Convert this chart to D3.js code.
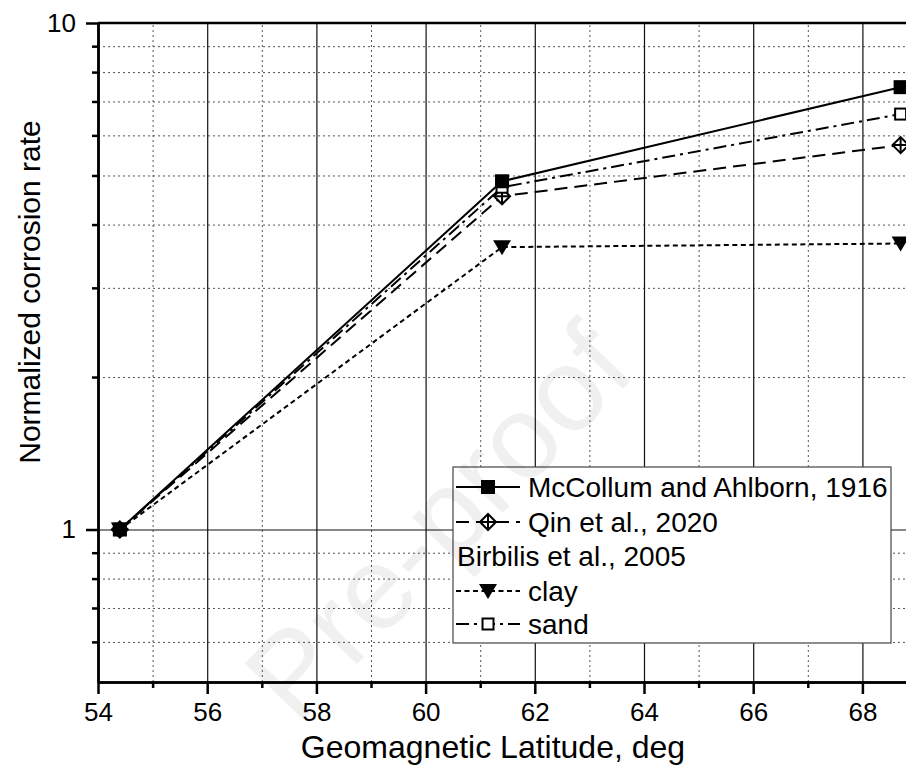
<!DOCTYPE html>
<html>
<head>
<meta charset="utf-8">
<script src="https://cdn.jsdelivr.net/npm/d3@7"></script>
<style>
  body { margin: 0; background: #fff; }
  svg { display: block; font-family: "Liberation Sans", Arial, sans-serif; }
</style>
</head>
<body>
<div id="chart"></div>
<script>
// data
var latitudes = [54.4, 61.4, 68.7];
var mccollum = [1, 4.87, 7.47];
var qin      = [1, 4.55, 5.74];
var clay     = [1, 3.61, 3.67];
var sand     = [1, 4.74, 6.61];

var xMajorTicks = [54, 56, 58, 60, 62, 64, 66, 68];
var xMinorTicks = [55, 57, 59, 61, 63, 65, 67];
var yMajorTicks = [1, 10];
var yMinorTicks = [0.6, 0.7, 0.8, 0.9, 2, 3, 4, 5, 6, 7, 8, 9];

var seriesNames = ["McCollum and Ahlborn, 1916", "Qin et al., 2020", "clay", "sand"];

var margin = {top: 23, left: 98};
var width = 819, height = 659;

var svg = d3.select("#chart").append("svg")
    .attr("width", 906)
    .attr("height", 767);

var g = svg.append("g")
    .attr("transform", "translate(" + margin.left + "," + margin.top + ")");

var x = d3.scaleLinear().domain([54, 69]).range([0, width]);
var y = d3.scaleLog().domain([0.5, 10]).range([height, 0]);

// grid
g.append("g")
    .attr("transform", "translate(0," + height + ")")
    .call(d3.axisBottom(x).tickValues(xMinorTicks).tickSize(-height).tickFormat(""))
    .call(function(s) {
        s.select(".domain").remove();
        s.selectAll("line").attr("stroke", "#555").attr("stroke-dasharray", "2,3");
    });
g.append("g")
    .call(d3.axisLeft(y).tickValues(yMinorTicks).tickSize(-width).tickFormat(""))
    .call(function(s) {
        s.select(".domain").remove();
        s.selectAll("line").attr("stroke", "#555").attr("stroke-dasharray", "2,3");
    });
g.append("g")
    .attr("transform", "translate(0," + height + ")")
    .call(d3.axisBottom(x).tickValues(xMajorTicks.slice(1)).tickSize(-height).tickFormat(""))
    .call(function(s) {
        s.select(".domain").remove();
        s.selectAll("line").attr("stroke", "#111").attr("stroke-width", 1.2);
    });
g.append("g")
    .call(d3.axisLeft(y).tickValues([1]).tickSize(-width).tickFormat(""))
    .call(function(s) {
        s.select(".domain").remove();
        s.selectAll("line").attr("stroke", "#111").attr("stroke-width", 1.2);
    });

// axes
function styleAxis(s) {
    s.select(".domain").attr("stroke", "#000").attr("stroke-width", 2.5);
    s.selectAll("line").attr("stroke", "#000").attr("stroke-width", 2.5);
    s.selectAll("text").attr("fill", "#000").style("font-size", "26px");
}

g.append("g")
    .attr("transform", "translate(0," + height + ")")
    .call(d3.axisBottom(x).tickValues(xMinorTicks).tickSize(6).tickSizeOuter(0).tickFormat(""))
    .call(styleAxis);
g.append("g")
    .attr("transform", "translate(0," + height + ")")
    .call(d3.axisBottom(x).tickValues(xMajorTicks).tickSize(12).tickSizeOuter(0).tickPadding(9).tickFormat(d3.format("d")))
    .call(styleAxis);

g.append("g")
    .call(d3.axisLeft(y).tickValues(yMinorTicks).tickSize(6).tickSizeOuter(0).tickFormat(""))
    .call(styleAxis);
g.append("g")
    .call(d3.axisLeft(y).tickValues(yMajorTicks).tickSize(12).tickSizeOuter(0).tickPadding(10).tickFormat(d3.format("d")))
    .call(styleAxis);

// top frame line
g.append("line")
    .attr("x1", 0).attr("x2", width)
    .attr("y1", y(10)).attr("y2", y(10))
    .attr("stroke", "#000").attr("stroke-width", 2.5);

// axis titles
svg.append("text")
    .attr("x", 493).attr("y", 758)
    .attr("text-anchor", "middle")
    .style("font-size", "32px")
    .text("Geomagnetic Latitude, deg");

svg.append("text")
    .attr("transform", "translate(40,292) rotate(-90)")
    .attr("text-anchor", "middle")
    .style("font-size", "30px")
    .text("Normalized corrosion rate");

// series
var styles = [
    {values: mccollum, dash: null, marker: "filledSquare"},
    {values: qin, dash: "13,7", marker: "crossDiamond"},
    {values: clay, dash: "5,3.5", marker: "triangle"},
    {values: sand, dash: "13,5,3,5", marker: "openSquare"}
];

var line = d3.line()
    .x(function(d) { return x(d.lat); })
    .y(function(d) { return y(d.v); });

function drawMarker(sel, type, cx, cy) {
    var m = sel.append("g").attr("transform", "translate(" + cx + "," + cy + ")");
    if (type === "filledSquare") {
        m.append("rect").attr("x", -7).attr("y", -7).attr("width", 14).attr("height", 14).attr("fill", "#000");
    } else if (type === "openSquare") {
        m.append("rect").attr("x", -5.5).attr("y", -5.5).attr("width", 11).attr("height", 11)
            .attr("fill", "#fff").attr("stroke", "#000").attr("stroke-width", 2);
    } else if (type === "triangle") {
        m.append("path").attr("d", "M-9,-7L9,-7L0,8Z").attr("fill", "#000");
    } else if (type === "crossDiamond") {
        m.append("path").attr("d", "M0,-8L8,0L0,8L-8,0Z")
            .attr("fill", "#fff").attr("stroke", "#000").attr("stroke-width", 2);
        m.append("path").attr("d", "M0,-8V8M-8,0H8")
            .attr("stroke", "#000").attr("stroke-width", 2);
    }
}

var plot = g.append("g");
styles.forEach(function(s) {
    var pts = latitudes.map(function(lat, i) { return {lat: lat, v: s.values[i]}; });
    plot.append("path")
        .datum(pts)
        .attr("fill", "none")
        .attr("stroke", "#000")
        .attr("stroke-width", 2)
        .attr("stroke-dasharray", s.dash)
        .attr("d", line);
});
// markers, drawn so the first-listed series ends on top
[2, 1, 3, 0].forEach(function(k) {
    var s = styles[k];
    latitudes.forEach(function(lat, i) {
        drawMarker(plot, s.marker, x(lat), y(s.values[i]));
    });
});

// legend
var legend = svg.append("g").attr("transform", "translate(453,467)");
legend.append("rect")
    .attr("width", 438).attr("height", 176)
    .attr("fill", "#fff").attr("stroke", "#444").attr("stroke-width", 1.2);

var rows = [
    {label: seriesNames[0], style: styles[0], cy: 20},
    {label: seriesNames[1], style: styles[1], cy: 55},
    {label: "Birbilis et al., 2005", style: null, cy: 89},
    {label: seriesNames[2], style: styles[2], cy: 124},
    {label: seriesNames[3], style: styles[3], cy: 157}
];
rows.forEach(function(r) {
    if (r.style) {
        legend.append("line")
            .attr("x1", 3).attr("x2", 67)
            .attr("y1", r.cy).attr("y2", r.cy)
            .attr("stroke", "#000").attr("stroke-width", 2)
            .attr("stroke-dasharray", r.style.dash);
        drawMarker(legend, r.style.marker, 35, r.cy);
    }
    legend.append("text")
        .attr("x", r.style ? 75 : 4)
        .attr("y", r.cy + 10)
        .style("font-size", "28px")
        .text(r.label);
});

// watermark
svg.append("text")
    .attr("transform", "translate(445,528) rotate(-46)")
    .attr("text-anchor", "middle")
    .attr("dominant-baseline", "middle")
    .style("font-size", "118px")
    .attr("fill", "#000")
    .attr("fill-opacity", 0.06)
    .text("Pre-proof");
</script>
</body>
</html>
